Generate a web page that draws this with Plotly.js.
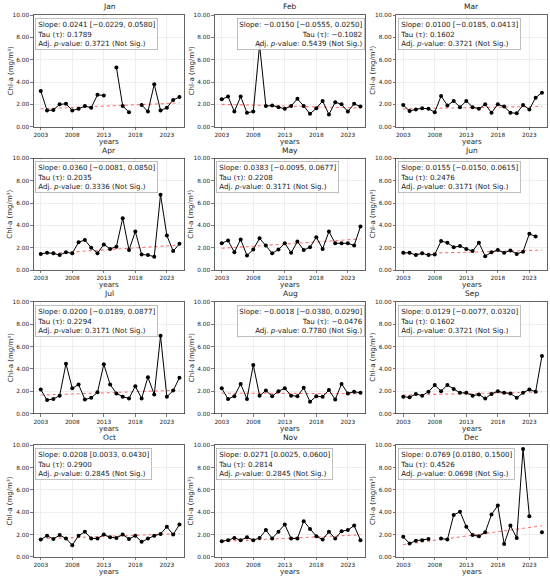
<!DOCTYPE html>
<html>
<head>
<meta charset="utf-8">
<script src="https://cdn.plot.ly/plotly-3.0.1.min.js"></script>
<style>html,body{margin:0;padding:0;background:#fff;}#chart{width:550px;height:578px;}</style>
</head>
<body>
<div id="chart"></div>
<script>
// ---------------- DATA ----------------
const years = [2003,2004,2005,2006,2007,2008,2009,2010,2011,2012,2013,2014,2015,2016,2017,2018,2019,2020,2021,2022,2023,2024,2025];
const months = ['Jan','Feb','Mar','Apr','May','Jun','Jul','Aug','Sep','Oct','Nov','Dec'];

const jan = [3.20,1.45,1.50,2.00,2.05,1.45,1.60,1.85,1.70,2.85,2.80,null,5.30,1.85,1.30,null,1.95,1.35,3.80,1.45,1.70,2.40,2.65];
const feb = [2.45,2.70,1.35,2.70,1.25,1.35,7.30,1.85,1.90,1.75,1.60,1.85,2.50,1.85,1.15,1.65,2.30,1.10,2.20,2.00,1.35,2.05,1.80];
const mar = [1.95,1.40,1.55,1.65,1.60,1.30,2.75,1.90,2.30,1.75,2.30,1.75,1.60,2.00,1.25,2.00,1.80,1.25,1.20,1.95,1.55,2.60,3.05];
const apr = [1.45,1.55,1.50,1.35,1.60,1.50,2.50,2.70,2.00,1.50,2.30,1.90,2.10,4.65,1.80,3.45,1.40,1.35,1.20,6.75,3.10,1.70,2.35];
const may = [2.40,2.65,1.60,2.75,1.30,1.85,2.85,2.20,1.50,1.85,2.40,1.55,2.55,1.80,2.05,2.95,1.90,3.45,2.40,2.40,2.40,2.20,3.90];
const jun = [1.55,1.55,1.35,1.50,1.35,1.40,2.60,2.45,2.05,2.15,1.90,1.70,2.45,1.25,1.60,1.80,1.55,1.75,1.45,1.65,3.25,3.00,null];
const jul = [2.15,1.20,1.30,1.60,4.45,2.25,2.60,1.25,1.40,1.90,4.40,2.60,1.80,1.50,1.35,2.45,1.35,3.25,1.70,6.95,1.50,2.05,3.20];
const aug = [2.25,1.30,1.55,2.65,1.30,4.35,1.60,2.05,1.55,2.00,2.25,1.60,1.55,2.30,1.05,1.55,1.50,2.10,1.25,2.65,1.80,1.95,1.85];
const sep = [1.50,1.45,1.75,1.60,1.95,2.55,2.00,2.55,2.20,1.85,1.85,1.60,1.70,1.35,1.75,2.00,1.85,1.80,1.40,1.85,2.15,1.95,5.15];
const oct = [1.55,1.90,1.60,1.95,1.65,1.05,1.90,2.25,1.65,1.65,2.00,1.75,1.70,2.00,1.60,1.90,1.35,1.65,1.90,2.05,2.70,2.00,2.90];
const nov = [1.40,1.50,1.70,1.50,1.75,1.50,1.70,2.40,1.65,2.25,2.90,1.65,1.65,3.20,2.50,1.85,1.55,2.25,1.65,2.30,2.40,2.80,1.50];
const dec = [1.80,1.20,1.45,1.50,1.60,null,1.65,1.55,3.75,4.05,2.70,1.95,1.85,2.20,3.80,4.60,1.15,2.80,1.70,9.65,3.65,null,2.20];
const monthSeries = [jan,feb,mar,apr,may,jun,jul,aug,sep,oct,nov,dec];

// Sen's slope trend line (value at first and last year)
const trendYears = [2003, 2025];
const trendStart = [1.60,2.00,1.60,1.45,1.95,1.45,1.65,1.82,1.65,1.62,1.38,1.10];
const trendEnd   = [2.13,1.67,1.82,2.24,2.79,1.79,2.09,1.78,1.93,2.08,1.98,2.79];

// Statistics
const slope   = [0.0241,-0.0150,0.0100,0.0360,0.0383,0.0155,0.0200,-0.0018,0.0129,0.0208,0.0271,0.0769];
const ciLow   = [-0.0229,-0.0555,-0.0185,-0.0081,-0.0095,-0.0150,-0.0189,-0.0380,-0.0077,0.0033,0.0025,0.0180];
const ciHigh  = [0.0580,0.0250,0.0413,0.0850,0.0677,0.0615,0.0877,0.0290,0.0320,0.0430,0.0600,0.1500];
const tau     = [0.1789,-0.1082,0.1602,0.2035,0.2208,0.2476,0.2294,-0.0476,0.1602,0.2900,0.2814,0.4526];
const pAdj    = [0.3721,0.5439,0.3721,0.3336,0.3171,0.3171,0.3171,0.7780,0.3721,0.2845,0.2845,0.0698];

const xTickVals = [2003,2008,2013,2018,2023];
const yTickVals = [0,2,4,6,8,10];
const yTickText = ['0.00','2.00','4.00','6.00','8.00','10.00'];

// ---------------- LAYOUT ----------------
const W = 550, H = 578;
const colLeft = [33.5, 214.5, 396];
const colW = 151;
const rowTop = [15, 158.4, 301.8, 445.2];
const rowH = 111.7;
const FONT = 'DejaVu Sans, Liberation Sans, sans-serif';
const TXT = '#1a1a1a';

function fmt(v){ return (v < 0 ? '\u2212' : '') + Math.abs(v).toFixed(4); }

const traces = [];
const layout = {
  width: W, height: H,
  margin: {l:0, r:0, t:0, b:0},
  paper_bgcolor: '#fff', plot_bgcolor: '#fff',
  showlegend: false,
  font: {family: FONT, color: TXT},
  annotations: []
};

months.forEach((m, i) => {
  const r = Math.floor(i / 3), c = i % 3;
  const n = i + 1;
  const xa = 'x' + (n === 1 ? '' : n), ya = 'y' + (n === 1 ? '' : n);
  const xk = 'xaxis' + (n === 1 ? '' : n), yk = 'yaxis' + (n === 1 ? '' : n);

  traces.push({
    x: trendYears, y: [trendStart[i], trendEnd[i]],
    xaxis: xa, yaxis: ya, type: 'scatter', mode: 'lines',
    line: {color: 'rgba(255,40,40,0.65)', width: 1.1, dash: 'dot'},
    hoverinfo: 'skip'
  });
  traces.push({
    x: years, y: monthSeries[i],
    xaxis: xa, yaxis: ya, type: 'scatter', mode: 'lines+markers',
    line: {color: '#000', width: 1},
    marker: {color: '#000', size: 4},
    connectgaps: false
  });

  const x0 = colLeft[c] / W, x1 = (colLeft[c] + colW) / W;
  const y1 = 1 - rowTop[r] / H, y0 = 1 - (rowTop[r] + rowH) / H;

  const common = {
    tickfont: {size: 5.8, family: FONT, color: TXT},
    ticks: 'outside', ticklen: 2.5, tickwidth: 0.6, tickcolor: '#222',
    showline: true, mirror: true, linecolor: '#222', linewidth: 0.7,
    showgrid: true, gridcolor: '#e2e2e2', gridwidth: 0.6,
    zeroline: false, fixedrange: true
  };
  layout[xk] = Object.assign({
    domain: [x0, x1], anchor: ya,
    range: [2001.85, 2025.8],
    tickvals: xTickVals, ticktext: xTickVals.map(String)
  }, common);
  layout[yk] = Object.assign({
    domain: [y0, y1], anchor: xa,
    range: [0, 10],
    tickvals: yTickVals, ticktext: yTickText
  }, common);

  // subplot title
  layout.annotations.push({
    text: m, xref: xa + ' domain', yref: ya + ' domain',
    x: 0.5, y: 1, xanchor: 'center', yanchor: 'bottom', yshift: 1.5,
    showarrow: false, font: {size: 7.5, family: FONT, color: TXT}
  });
  // x title
  layout.annotations.push({
    text: 'years', xref: xa + ' domain', yref: ya + ' domain',
    x: 0.5, y: 0, xanchor: 'center', yanchor: 'top', yshift: -8,
    showarrow: false, font: {size: 7.2, family: FONT, color: TXT}
  });
  // y title
  layout.annotations.push({
    text: 'Chl-a (mg/m\u00b3)', xref: xa + ' domain', yref: ya + ' domain',
    x: 0, y: 0.5, xanchor: 'center', yanchor: 'middle', xshift: -23,
    textangle: -90,
    showarrow: false, font: {size: 7, family: FONT, color: TXT}
  });
  // statistics box
  const right = slope[i] < 0;
  const txt = 'Slope: ' + fmt(slope[i]) + ' [' + fmt(ciLow[i]) + ', ' + fmt(ciHigh[i]) + ']<br>' +
              'Tau (\u03c4): ' + fmt(tau[i]) + '<br>' +
              'Adj. <i>p</i>-value: ' + pAdj[i].toFixed(4) + ' (Not Sig.)';
  layout.annotations.push({
    text: txt, xref: xa + ' domain', yref: ya + ' domain',
    x: right ? 0.995 : 0.012, y: 0.975,
    xanchor: right ? 'right' : 'left', yanchor: 'top',
    align: right ? 'right' : 'left',
    showarrow: false,
    font: {size: 7.1, family: FONT, color: TXT},
    bgcolor: 'rgba(255,255,255,0.85)', bordercolor: '#b0b0b0', borderwidth: 0.8, borderpad: 1.5
  });
});

Plotly.newPlot('chart', traces, layout, {staticPlot: true, displayModeBar: false});
</script>
</body>
</html>
